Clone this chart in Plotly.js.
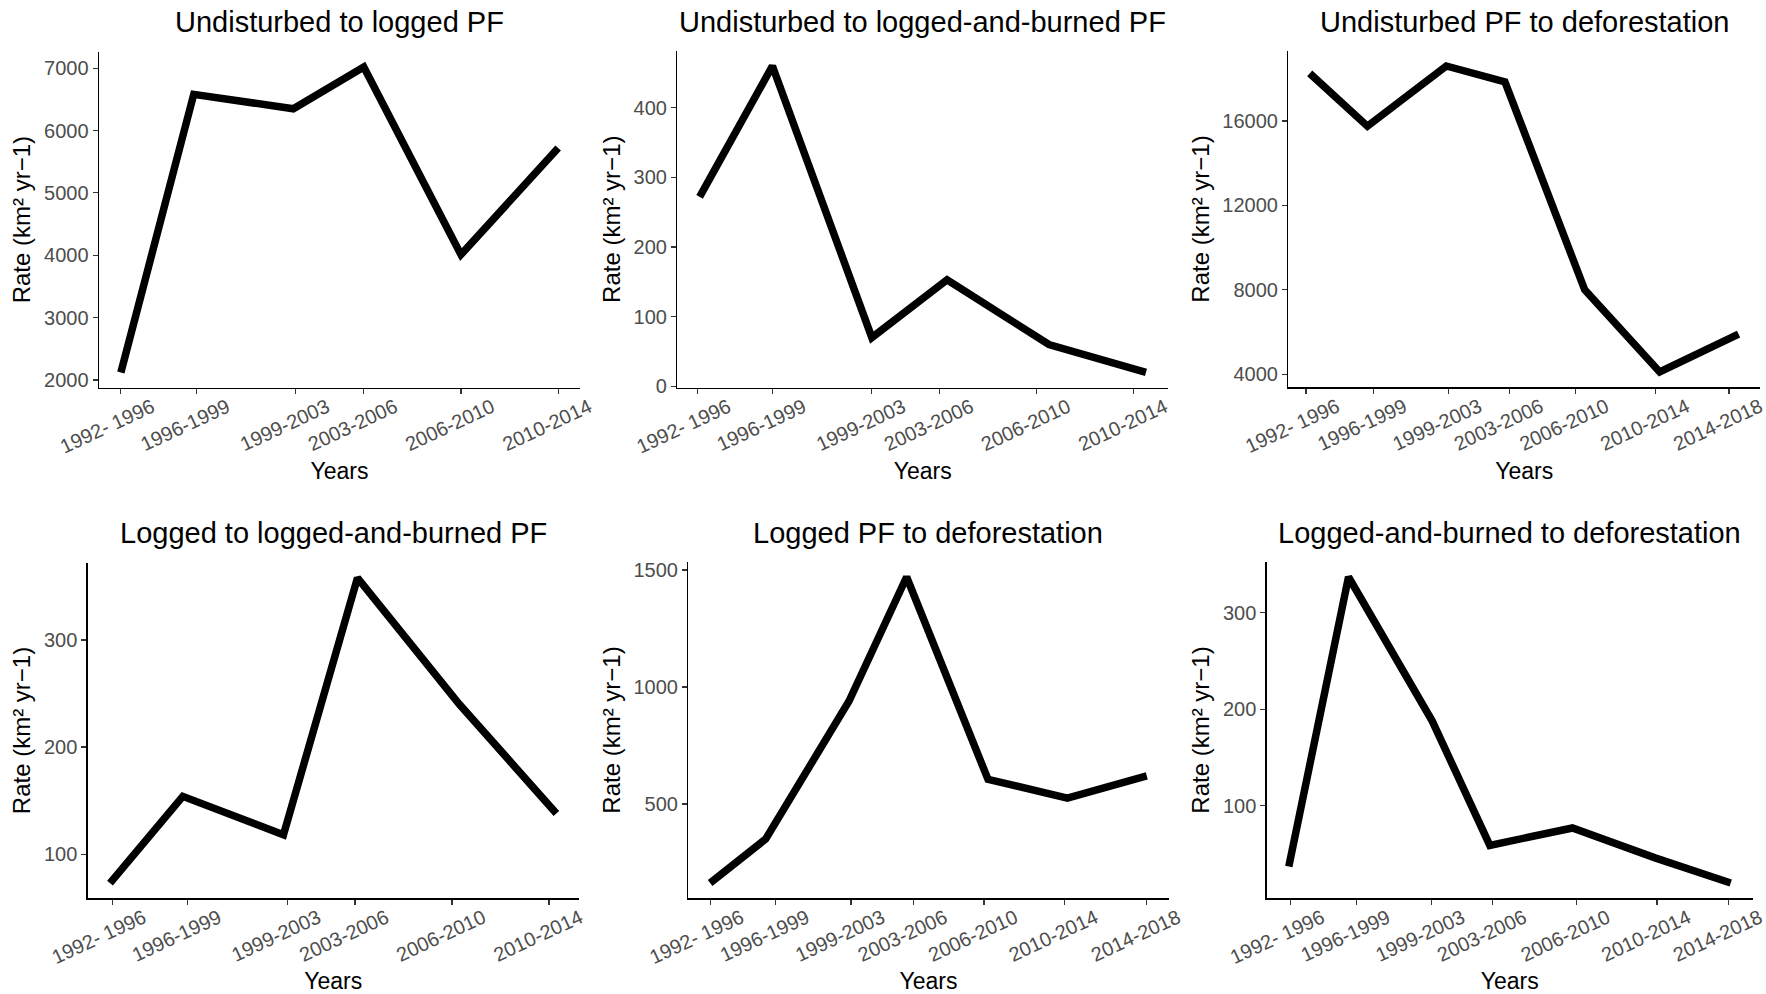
<!DOCTYPE html>
<html>
<head>
<meta charset="utf-8">
<script src="https://cdn.plot.ly/plotly-3.0.1.min.js"></script>
<style>
  html, body { margin: 0; padding: 0; background: #ffffff; }
  #chart { width: 1766px; height: 994px; }
</style>
</head>
<body>
<div id="chart"></div>
<script>
// ---- Data ----
const periods6 = ["1992- 1996", "1996-1999", "1999-2003", "2003-2006", "2006-2010", "2010-2014"];
const periods7 = ["1992- 1996", "1996-1999", "1999-2003", "2003-2006", "2006-2010", "2010-2014", "2014-2018"];

const panelTitles = [
  "Undisturbed to logged PF",
  "Undisturbed to logged-and-burned PF",
  "Undisturbed PF to deforestation",
  "Logged to logged-and-burned PF",
  "Logged PF to deforestation",
  "Logged-and-burned to deforestation"
];

// Panel 1: Undisturbed to logged PF
const p1Years = [1996.0, 1999.0, 2003.1, 2006.0, 2010.0, 2014.0];
const p1Ticks = [1996.0, 1999.1, 2003.2, 2006.0, 2010.0, 2014.0];
const p1Rate  = [2120, 6580, 6350, 7020, 4010, 5720];

// Panel 2: Undisturbed to logged-and-burned PF
const p2Years = [1996.1, 1999.1, 2003.2, 2006.3, 2010.5, 2014.5];
const p2Ticks = [1996.0, 1999.1, 2003.2, 2006.0, 2010.0, 2014.0];
const p2Rate  = [272, 460, 70, 153, 60, 20];

// Panel 3: Undisturbed PF to deforestation
const p3Years = [1996.2, 1999.2, 2003.3, 2006.35, 2010.5, 2014.4, 2018.5];
const p3Ticks = [1996.0, 1999.5, 2003.4, 2006.6, 2010.0, 2014.2, 2018.0];
const p3Rate  = [18250, 15750, 18600, 17850, 8000, 4110, 5900];

// Panel 4: Logged to logged-and-burned PF
const p4Years = [1995.9, 1998.9, 2003.05, 2006.1, 2010.3, 2014.3];
const p4Ticks = [1996.0, 1999.1, 2003.2, 2006.0, 2010.0, 2014.0];
const p4Rate  = [73, 154, 118, 358, 240, 138];

// Panel 5: Logged PF to deforestation
const p5Years = [1996.0, 1998.8, 2003.0, 2005.9, 2010.0, 2014.0, 2018.0];
const p5Ticks = [1996.0, 1999.3, 2003.1, 2006.25, 2009.8, 2013.85, 2018.0];
const p5Rate  = [162, 350, 940, 1470, 605, 525, 620];

// Panel 6: Logged-and-burned to deforestation
const p6Years = [1995.9, 1998.9, 2003.1, 2006.0, 2010.15, 2014.3, 2018.1];
const p6Ticks = [1996.0, 1999.3, 2003.05, 2006.15, 2010.35, 2014.4, 2018.0];
const p6Rate  = [37, 337, 188, 59, 77, 46, 20];

// y tick spacing per panel
const yDticks = [1000, 100, 4000, 100, 500, 100];

// ---- Layout geometry (pixels of the 1766x994 canvas) ----
const W = 1766, H = 994;
const boxes = [
  {l: 99,    r: 580,    t: 51.7,  b: 387.7},
  {l: 677.3, r: 1168.3, t: 50.7,  b: 387.7},
  {l: 1288.3,r: 1760,   t: 50.7,  b: 387.3},
  {l: 87.7,  r: 578.7,  t: 562.7, b: 898.3},
  {l: 688.3, r: 1168.6, t: 561.7, b: 898.3},
  {l: 1266.7,r: 1752.8, t: 561.7, b: 898.3}
];
const titleY = [21.7, 21.7, 21.7, 533.3, 533.3, 533.3];

const panels = [
  {x: p1Years, ticks: p1Ticks, y: p1Rate, labels: periods6},
  {x: p2Years, ticks: p2Ticks, y: p2Rate, labels: periods6},
  {x: p3Years, ticks: p3Ticks, y: p3Rate, labels: periods7},
  {x: p4Years, ticks: p4Ticks, y: p4Rate, labels: periods6},
  {x: p5Years, ticks: p5Ticks, y: p5Rate, labels: periods7},
  {x: p6Years, ticks: p6Ticks, y: p6Rate, labels: periods7}
];

function expand(arr) {
  const mn = Math.min(...arr), mx = Math.max(...arr);
  const pad = (mx - mn) * 0.05;
  return [mn - pad, mx + pad];
}

const FONT = "Liberation Sans, Arial, sans-serif";
const traces = [];
const layout = {
  width: W, height: H,
  margin: {l: 0, r: 0, t: 0, b: 0},
  paper_bgcolor: "#ffffff",
  plot_bgcolor: "#ffffff",
  showlegend: false,
  font: {family: FONT},
  annotations: []
};

panels.forEach((p, i) => {
  const n = i + 1;
  const xa = n === 1 ? "xaxis" : "xaxis" + n;
  const ya = n === 1 ? "yaxis" : "yaxis" + n;
  const xr = n === 1 ? "x" : "x" + n;
  const yr = n === 1 ? "y" : "y" + n;
  const bx = boxes[i];

  traces.push({
    type: "scatter", mode: "lines",
    x: p.x, y: p.y,
    xaxis: xr, yaxis: yr,
    line: {color: "#000000", width: 7.5, shape: "linear"},
    hoverinfo: "x+y"
  });

  layout[xa] = {
    domain: [bx.l / W, bx.r / W],
    anchor: yr,
    range: expand(p.x),
    tickmode: "array",
    tickvals: p.ticks,
    ticktext: p.labels,
    tickangle: -25,
    ticklabelshift: 31,
    ticklabelstandoff: -6,
    ticklabeloverflow: "allow",
    ticks: "outside", ticklen: 5, tickwidth: 1.2, tickcolor: "#333333",
    showline: true, linecolor: "#000000", linewidth: 1.4,
    showgrid: false, zeroline: false,
    tickfont: {family: FONT, size: 20, color: "#4d4d4d"},
    title: {text: "Years", font: {family: FONT, size: 23, color: "#000000"}, standoff: 6},
    automargin: false,
    fixedrange: true
  };
  layout[ya] = {
    domain: [1 - bx.b / H, 1 - bx.t / H],
    anchor: xr,
    range: expand(p.y),
    tickmode: "linear", tick0: 0, dtick: yDticks[i],
    tickformat: "d",
    ticks: "outside", ticklen: 5, tickwidth: 1.2, tickcolor: "#333333",
    showline: true, linecolor: "#000000", linewidth: 1.4,
    showgrid: false, zeroline: false,
    tickfont: {family: FONT, size: 20, color: "#4d4d4d"},
    title: {text: "Rate (km² yr−1)", font: {family: FONT, size: 24, color: "#000000"}, standoff: 6},
    automargin: false,
    fixedrange: true
  };

  layout.annotations.push({
    text: panelTitles[i],
    xref: "paper", yref: "paper",
    x: (bx.l + bx.r) / 2 / W,
    y: 1 - titleY[i] / H,
    xanchor: "center", yanchor: "middle",
    showarrow: false,
    font: {family: FONT, size: 29, color: "#000000"}
  });
});

Plotly.newPlot("chart", traces, layout, {displayModeBar: false, staticPlot: true});
</script>
</body>
</html>
